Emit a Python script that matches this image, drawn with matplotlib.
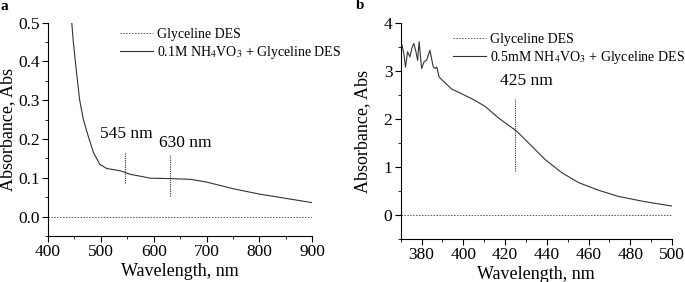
import matplotlib
matplotlib.use('Agg')
import matplotlib.pyplot as plt
from matplotlib.ticker import MultipleLocator, FormatStrFormatter

plt.rcParams['font.family'] = ['Liberation Serif', 'DejaVu Serif']
plt.rcParams['mathtext.fontset'] = 'stix'

# panel a : 0.1M NH4VO3 in glyceline, 400-900 nm
wl_a = [445, 448, 451, 455, 460, 467, 476, 486, 498, 511, 537, 556, 594, 632, 670,
        700, 750, 800, 850, 900]
abs_a = [0.50, 0.45, 0.41, 0.36, 0.30, 0.25, 0.208, 0.165, 0.135, 0.124, 0.118, 0.109,
         0.099, 0.098, 0.096, 0.089, 0.072, 0.058, 0.047, 0.036]
blank_a_wl = [400, 900]
blank_a = [0.0, 0.0]
peaks_a = [545, 630]
peak_a_lo = [0.086, 0.053]
peak_a_hi = [0.165, 0.159]
peak_a_labels = ['545 nm', '630 nm']

# panel b : 0.5mM NH4VO3 in glyceline, 370-500 nm
wl_b = [370.4, 371.5, 372.3, 373.3, 374.4, 375.5, 376.3, 377.3, 378.1, 378.8,
        380.0, 381.2, 382.4, 384.0, 385.6, 386.7, 387.3, 388.4, 389.6, 394.4,
        398.4, 404.0, 410.4, 416.8, 425.6, 432.8, 439.2, 447.2, 455.2, 464.8,
        474.4, 487.2, 500.0]
abs_b = [3.58, 3.37, 3.09, 3.41, 3.30, 3.51, 3.58, 3.41, 3.23, 3.62,
         3.06, 3.20, 3.23, 3.44, 3.09, 3.06, 3.09, 2.88, 2.83, 2.63,
         2.55, 2.43, 2.27, 2.03, 1.75, 1.44, 1.16, 0.886, 0.68, 0.52,
         0.39, 0.28, 0.19]
blank_b_wl = [370, 500]
blank_b = [0.0, 0.0]
peak_b = 425
peak_b_lo = 0.92
peak_b_hi = 2.42


def style_axes(ax, ylab_x):
    ax.spines['top'].set_visible(False)
    ax.spines['right'].set_visible(False)
    ax.tick_params(which='major', direction='out', length=4, width=0.8, labelsize=12.5, pad=2)
    ax.tick_params(which='minor', direction='out', length=2, width=0.6)
    ax.set_xlabel('Wavelength, nm', fontsize=13, labelpad=2)
    ax.set_ylabel('Absorbance, Abs', fontsize=13)
    ax.yaxis.set_label_coords(ylab_x, 0.5)


fig = plt.figure(figsize=(6.85, 2.82), dpi=100)
ax1 = fig.add_axes([0.070, 0.163, 0.386, 0.757])
ax2 = fig.add_axes([0.585, 0.152, 0.396, 0.765])

ln = '#333333'
leg_kw = dict(loc='upper left', bbox_transform=fig.transFigure, frameon=False,
              fontsize=10, handlelength=2.4, handletextpad=0.25,
              labelspacing=0.2, borderpad=0, borderaxespad=0)

# --- a ---
ax1.plot(blank_a_wl, blank_a, color='#555555', lw=0.7, ls=(0, (1.5, 1.5)), label='Glyceline DES')
ax1.plot(wl_a, abs_a, color=ln, lw=0.8, label=r'0.1M NH$_4$VO$_3$ + Glyceline DES')
for p, lo, hi in zip(peaks_a, peak_a_lo, peak_a_hi):
    ax1.plot([p, p], [lo, hi], color=ln, lw=0.8, ls=(0, (1, 1)))
ax1.text(549, 0.212, peak_a_labels[0], fontsize=12.5, ha='center', va='center')
ax1.text(660, 0.189, peak_a_labels[1], fontsize=12.5, ha='center', va='center')
ax1.set_xlim(400, 900)
ax1.set_ylim(-0.05, 0.5)
ax1.xaxis.set_major_locator(MultipleLocator(100))
ax1.xaxis.set_minor_locator(MultipleLocator(50))
ax1.yaxis.set_major_locator(MultipleLocator(0.1))
ax1.yaxis.set_minor_locator(MultipleLocator(0.05))
ax1.yaxis.set_major_formatter(FormatStrFormatter('%.1f'))
style_axes(ax1, -0.12)
ax1.legend(bbox_to_anchor=(0.175, 0.90), **leg_kw)

# --- b ---
ax2.plot(blank_b_wl, blank_b, color='#555555', lw=0.7, ls=(0, (1.5, 1.5)), label='Glyceline DES')
ax2.plot(wl_b, abs_b, color=ln, lw=0.8, label=r'0.5mM NH$_4$VO$_3$ + Glyceline DES')
ax2.plot([peak_b, peak_b], [peak_b_lo, peak_b_hi], color=ln, lw=0.8, ls=(0, (1, 1)))
ax2.text(430.4, 2.79, '425 nm', fontsize=12.5, ha='center', va='center')
ax2.set_xlim(370, 500)
ax2.set_ylim(-0.5, 4)
ax2.xaxis.set_major_locator(MultipleLocator(20))
ax2.xaxis.set_minor_locator(MultipleLocator(10))
ax2.yaxis.set_major_locator(MultipleLocator(1))
ax2.yaxis.set_minor_locator(MultipleLocator(0.5))
style_axes(ax2, -0.11)
ax2.legend(bbox_to_anchor=(0.661, 0.883), **leg_kw)

fig.text(0.0065, 0.977, 'a', fontsize=11, fontweight='bold', ha='center', va='center')
fig.text(0.526, 0.980, 'b', fontsize=11, fontweight='bold', ha='center', va='center')

fig.savefig('out.png', dpi=100)
